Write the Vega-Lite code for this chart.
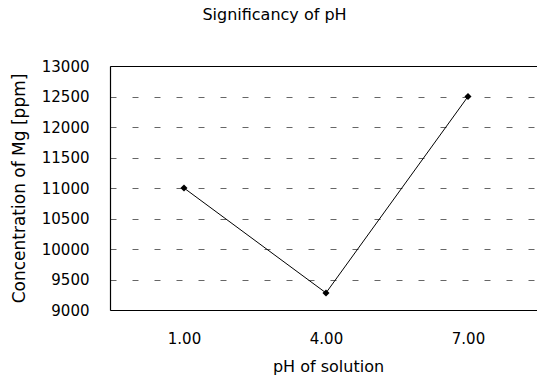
{
  "$schema": "https://vega.github.io/schema/vega-lite/v6.json",
  "autosize": "none",
  "width": 427,
  "height": 244,
  "padding": {"left": 110, "top": 66, "right": 0, "bottom": 73},
  "background": "white",
  "config": {
    "view": {"stroke": null},
    "font": "DejaVu Sans",
    "axis": {"labelFont": "DejaVu Sans", "titleFont": "DejaVu Sans", "labelColor": "#000", "titleColor": "#000", "titleFontWeight": "normal"}
  },
  "title": {
    "text": "Significancy of pH",
    "fontSize": 16,
    "fontWeight": "normal",
    "font": "DejaVu Sans",
    "color": "#000",
    "anchor": "middle",
    "frame": "group",
    "offset": 36,
    "dx": -49
  },
  "data": {
    "values": [
      {"pH": 1, "Mg": 11000},
      {"pH": 4, "Mg": 9280},
      {"pH": 7, "Mg": 12500}
    ]
  },
  "resolve": {"axis": {"x": "independent"}},
  "layer": [
    {
      "mark": {"type": "line", "color": "#000", "strokeWidth": 1},
      "encoding": {
        "x": {
          "field": "pH",
          "type": "quantitative",
          "scale": {"domain": [-0.563, 8.458], "nice": false, "zero": false},
          "axis": {
            "values": [1, 4, 7],
            "format": ".2f",
            "title": "pH of solution",
            "grid": false,
            "ticks": false,
            "domainColor": "#000",
            "domainWidth": 1.2,
            "labelFontSize": 15,
            "labelPadding": 21,
            "labelOverlap": false,
            "titleFontSize": 16,
            "titlePadding": 12,
            "titleX": 218
          }
        },
        "y": {
          "field": "Mg",
          "type": "quantitative",
          "scale": {"domain": [9000, 13000], "nice": false, "zero": false},
          "axis": {
            "values": [9000, 9500, 10000, 10500, 11000, 11500, 12000, 12500, 13000],
            "tickCount": 20,
            "format": "d",
            "title": "Concentration of Mg [ppm]",
            "ticks": false,
            "domainColor": "#000",
            "domainWidth": 1.2,
            "grid": true,
            "gridColor": "#666",
            "gridDash": [6, 16],
            "gridWidth": 1,
            "labelFontSize": 15,
            "labelPadding": 21,
            "labelOverlap": false,
            "titleFontSize": 17,
            "titlePadding": 13
          }
        }
      }
    },
    {
      "mark": {"type": "point", "shape": "diamond", "filled": true, "color": "#000", "size": 50, "opacity": 1},
      "encoding": {
        "x": {
          "field": "pH",
          "type": "quantitative",
          "axis": {
            "orient": "top",
            "labels": false,
            "ticks": false,
            "grid": false,
            "title": null,
            "domainColor": "#000",
            "domainWidth": 1.2
          }
        },
        "y": {"field": "Mg", "type": "quantitative"}
      }
    }
  ]
}
